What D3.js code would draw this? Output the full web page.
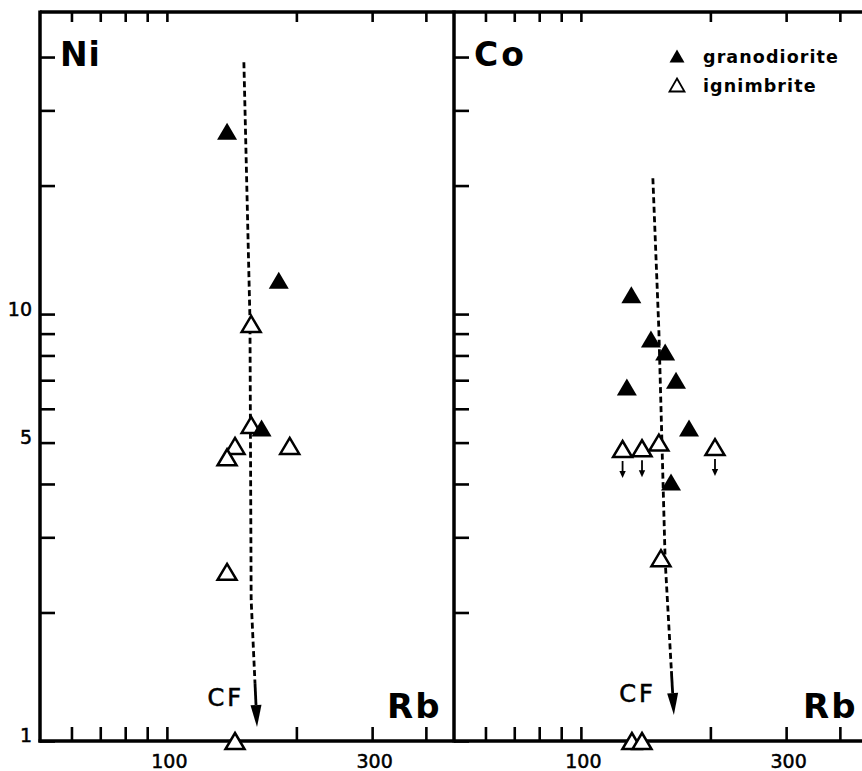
<!DOCTYPE html>
<html>
<head>
<meta charset="utf-8">
<script src="https://cdnjs.cloudflare.com/ajax/libs/d3/7.8.5/d3.min.js"></script>
<style>
  body { margin: 0; background: #fff; }
  svg { display: block; }
  text { font-family: "DejaVu Sans", sans-serif; fill: #000; }
</style>
</head>
<body>
<div id="chart"></div>
<script>
// Rb vs Ni and Rb vs Co (ppm), log-log, granodiorite vs ignimbrite

// Ni panel
var niGranoRb = [138, 182, 166];
var niGranoNi = [26.8, 12.0, 5.41];
var niIgnRb = [157, 157, 144, 138, 193, 138, 144];
var niIgnNi = [9.48, 5.5, 4.91, 4.62, 4.91, 2.49, 1];
// CF trend (dashed, arrow at the end)
var niTrendRb = [151, 156, 157, 162];
var niTrendNi = [38.9, 9.68, 2.14, 1.078];

// Co panel
var coGranoRb = [131, 145.5, 157, 166.4, 127.9, 178.4, 162];
var coGranoCo = [11.1, 8.74, 8.15, 7.0, 6.75, 5.41, 4.04];
var coIgnRb = [125, 138.7, 151.8, 205, 153.5, 131.4, 138.7];
var coIgnCo = [4.83, 4.85, 5.0, 4.88, 2.68, 1, 1];
var coIgnBelow = [true, true, false, true, false, false, false]; // upper limits
var coTrendRb = [147, 151.8, 157, 164.5];
var coTrendCo = [20.8, 9.17, 2.65, 1.15];

var xTicks = [60, 70, 80, 90, 100, 200, 300, 400];
var xTickLabels = [100, 300];
var yTicks = [1, 2, 3, 4, 5, 6, 7, 8, 9, 10, 20, 30, 40];
var yTickLabels = [1, 5, 10];

var legendNames = ["granodiorite", "ignimbrite"];

var width = 862,
    height = 771,
    plotTop = 12,
    plotBottom = 741,
    plotLeft = 40,
    panelW = 414;

var panels = [
  { name: "Ni", x0: plotLeft, granoX: niGranoRb, granoY: niGranoNi, ignX: niIgnRb, ignY: niIgnNi,
    below: null, trendX: niTrendRb, trendY: niTrendNi, cf: [-13, -21], nameSpacing: 1, legend: false },
  { name: "Co", x0: plotLeft + panelW, granoX: coGranoRb, granoY: coGranoCo, ignX: coIgnRb, ignY: coIgnCo,
    below: coIgnBelow, trendX: coTrendRb, trendY: coTrendCo, cf: [-18, -13], nameSpacing: 3, legend: true }
];

var svg = d3.select("#chart").append("svg")
    .attr("width", width)
    .attr("height", height);

var x = d3.scaleLog().domain([50.7, 465]).range([0, panelW]);
var y = d3.scaleLog().domain([1, 51]).range([plotBottom, plotTop]);

function tri(w, h) {
  return "M0," + (-h / 2) + "L" + (w / 2) + "," + (h / 2) + "L" + (-w / 2) + "," + (h / 2) + "Z";
}

// frame
svg.append("line")
    .attr("x1", plotLeft).attr("x2", width)
    .attr("y1", plotTop).attr("y2", plotTop)
    .attr("stroke", "#000").attr("stroke-width", 3.5);
svg.append("line")
    .attr("x1", plotLeft - 1.5).attr("x2", width)
    .attr("y1", plotBottom).attr("y2", plotBottom)
    .attr("stroke", "#000").attr("stroke-width", 3.5);

panels.forEach(function(p, i) {
  var g = svg.append("g").attr("transform", "translate(" + p.x0 + ",0)");

  g.append("line")
      .attr("x1", 0).attr("x2", 0)
      .attr("y1", plotTop - 1.5).attr("y2", plotBottom + 1.5)
      .attr("stroke", "#000").attr("stroke-width", 3.5);

  // bottom ticks go inward, labels below
  var xb = g.append("g")
      .attr("transform", "translate(0," + plotBottom + ")")
      .call(d3.axisBottom(x)
        .tickValues(xTicks)
        .tickSizeInner(-14)
        .tickSizeOuter(0)
        .tickPadding(14)
        .tickFormat(function(d) { return xTickLabels.indexOf(d) > -1 ? d : ""; }));
  xb.select(".domain").remove();
  xb.selectAll(".tick line").attr("stroke-width", 2.6);
  xb.selectAll(".tick text")
      .attr("font-size", 19)
      .attr("font-family", "DejaVu Sans")
      .attr("stroke", "#000")
      .attr("stroke-width", 0.5)
      .attr("dx", 2);

  var xt = g.append("g")
      .attr("transform", "translate(0," + plotTop + ")")
      .call(d3.axisTop(x)
        .tickValues(xTicks)
        .tickSizeInner(-10)
        .tickSizeOuter(0)
        .tickFormat(""));
  xt.select(".domain").remove();
  xt.selectAll(".tick line").attr("stroke-width", 2.6);

  var ya = g.append("g")
      .call(d3.axisLeft(y)
        .tickValues(yTicks)
        .tickSizeInner(-15)
        .tickSizeOuter(0)
        .tickPadding(8)
        .tickFormat(function(d) { return (i === 0 && yTickLabels.indexOf(d) > -1) ? d : ""; }));
  ya.select(".domain").remove();
  ya.selectAll(".tick line").attr("stroke-width", 2.6);
  ya.selectAll(".tick text")
      .attr("font-size", 19)
      .attr("font-family", "DejaVu Sans")
      .attr("stroke", "#000")
      .attr("stroke-width", 0.5)
      .attr("dy", "0.05em");

  // element name and Rb label
  g.append("text")
      .attr("x", 20).attr("y", 66)
      .attr("font-size", 33)
      .attr("font-weight", "bold")
      .attr("letter-spacing", p.nameSpacing)
      .text(p.name);
  g.append("text")
      .attr("x", i === 0 ? 347 : 349).attr("y", 718)
      .attr("font-size", 34)
      .attr("font-weight", "bold")
      .attr("letter-spacing", 2)
      .text("Rb");

  // CF trend
  var pts = p.trendX.map(function(d, k) { return [x(d), y(p.trendY[k])]; });
  var tip = pts[pts.length - 1],
      prev = pts[pts.length - 2],
      dx = tip[0] - prev[0], dy = tip[1] - prev[1],
      len = Math.sqrt(dx * dx + dy * dy),
      ux = dx / len, uy = dy / len,
      headLen = 22, headW = 5.5, shaft = 22;
  var headBase = [tip[0] - ux * headLen, tip[1] - uy * headLen];
  var shaftTop = [headBase[0] - ux * shaft, headBase[1] - uy * shaft];
  var dashed = pts.slice(0, -1).concat([shaftTop]);

  g.append("path")
      .attr("d", d3.line()(dashed))
      .attr("fill", "none")
      .attr("stroke", "#000")
      .attr("stroke-width", 2.8)
      .attr("stroke-dasharray", "6,3.5");
  g.append("path")
      .attr("d", d3.line()([shaftTop, headBase]))
      .attr("stroke", "#000")
      .attr("stroke-width", 2.8);
  g.append("path")
      .attr("d", "M" + tip[0] + "," + tip[1] +
                 "L" + (headBase[0] - uy * headW) + "," + (headBase[1] + ux * headW) +
                 "L" + (headBase[0] + uy * headW) + "," + (headBase[1] - ux * headW) + "Z")
      .attr("fill", "#000");
  g.append("text")
      .attr("x", tip[0] + p.cf[0]).attr("y", tip[1] + p.cf[1])
      .attr("text-anchor", "end")
      .attr("font-size", 24)
      .attr("letter-spacing", 3)
      .attr("stroke", "#000")
      .attr("stroke-width", 0.6)
      .text("CF");

  // ignimbrite (open)
  var ign = p.ignX.map(function(d, k) { return { rb: d, v: p.ignY[k], below: p.below ? p.below[k] : false }; });
  g.selectAll(".ign")
      .data(ign)
    .enter().append("path")
      .attr("class", "ign")
      .attr("transform", function(d) { return "translate(" + x(d.rb) + "," + y(d.v) + ")"; })
      .attr("d", tri(19, 16))
      .attr("fill", "#fff")
      .attr("stroke", "#000")
      .attr("stroke-width", 2.5)
      .attr("stroke-linejoin", "miter");

  // upper-limit arrows
  var lim = ign.filter(function(d) { return d.below; });
  lim.forEach(function(d) {
    var cx = x(d.rb), cy = y(d.v);
    g.append("line")
        .attr("x1", cx).attr("x2", cx)
        .attr("y1", cy + 12).attr("y2", cy + 23)
        .attr("stroke", "#000").attr("stroke-width", 1.8);
    g.append("path")
        .attr("d", "M" + cx + "," + (cy + 29) + "L" + (cx - 3.2) + "," + (cy + 22) + "L" + (cx + 3.2) + "," + (cy + 22) + "Z")
        .attr("fill", "#000");
  });

  // granodiorite (filled)
  var gr = p.granoX.map(function(d, k) { return { rb: d, v: p.granoY[k] }; });
  g.selectAll(".grano")
      .data(gr)
    .enter().append("path")
      .attr("class", "grano")
      .attr("transform", function(d) { return "translate(" + x(d.rb) + "," + y(d.v) + ")"; })
      .attr("d", tri(20, 17))
      .attr("fill", "#000");

  if (p.legend) {
    var lg = g.append("g").attr("transform", "translate(223,56)");
    legendNames.forEach(function(name, k) {
      lg.append("path")
          .attr("transform", "translate(0," + (k * 29) + ")")
          .attr("d", tri(15, 13))
          .attr("fill", k === 0 ? "#000" : "#fff")
          .attr("stroke", "#000")
          .attr("stroke-width", k === 0 ? 0 : 1.8);
      lg.append("text")
          .attr("x", 26).attr("y", k * 29 + 7)
          .attr("font-size", 17.5)
          .attr("font-weight", "bold")
          .attr("letter-spacing", 1.1)
          .text(name);
    });
  }
});
</script>
</body>
</html>
